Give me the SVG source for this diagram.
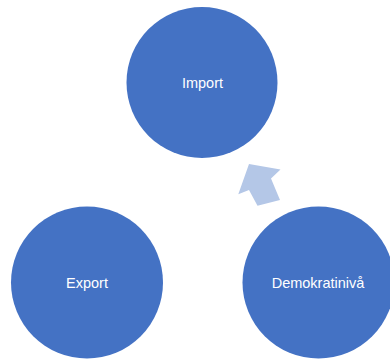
<svg xmlns="http://www.w3.org/2000/svg" width="390" height="360" viewBox="0 0 390 360">
<style>
.node{fill:#4472C4}
.lbl{fill:#FFFFFF;font-family:"Liberation Sans",Arial,sans-serif;font-size:14.5px;text-anchor:middle}
.arrow{fill:#B4C7E7}
</style>
<rect width="390" height="360" fill="#FFFFFF"/>
<g id="connectors">
<polygon class="arrow" points="249,164 280.5,169.5 271,178.5 280,200 257.5,205.8 249,190 238.3,194.2"/>
</g>
<g id="import">
<circle class="node" cx="202" cy="82.5" r="75.5"/>
<text class="lbl" x="202.5" y="88">Import</text>
</g>
<g id="export">
<circle class="node" cx="87" cy="282.5" r="76"/>
<text class="lbl" x="87" y="288">Export</text>
</g>
<g id="demokratiniva">
<circle class="node" cx="318.5" cy="282.5" r="76"/>
<text class="lbl" x="318" y="288">Demokratinivå</text>
</g>
</svg>
